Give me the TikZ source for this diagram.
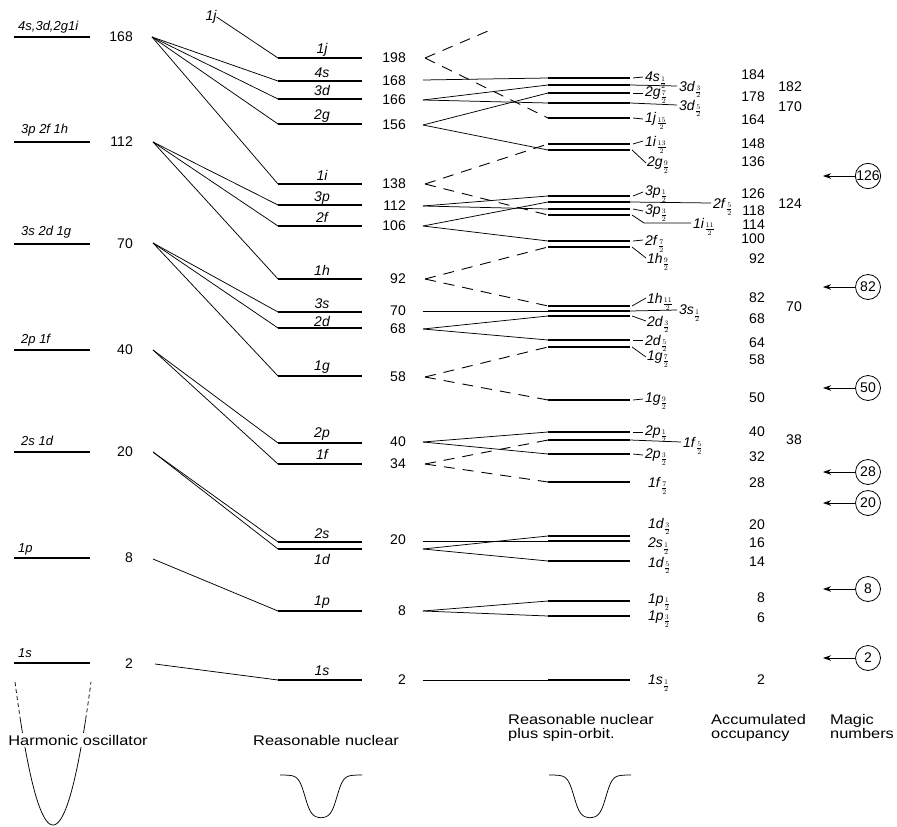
\documentclass[tikz,border=0pt]{standalone}
\usepackage{fontspec}
\setmainfont{Liberation Sans}
\newfontfamily\capfont[FakeStretch=1.17]{Liberation Sans}
\usetikzlibrary{arrows.meta}
\newcommand\sjlab[3]{\textit{#1}\smash{$_{\frac{#2}{#3}}$}}
\newcommand\rlevel[2]{\draw[lev] (548,#2) coordinate (#1L) -- (630,#2) coordinate (#1R);}
\begin{document}
\begin{tikzpicture}[x=1pt,y=-1pt,
  lev/.style={line width=2.5pt},
  conn/.style={line width=0.75pt},
  dconn/.style={line width=0.9pt, dash pattern=on 11pt off 8pt},
  num/.style={font=\fontsize{14}{16}\selectfont, inner sep=0pt, anchor=east},
  olab/.style={font=\fontsize{13}{15}\selectfont\itshape, inner sep=0pt, anchor=base west},
  mlab/.style={font=\fontsize{14}{16}\selectfont\itshape, inner sep=0pt, anchor=base},
  slab/.style={font=\fontsize{14}{16}\selectfont, inner sep=0pt, anchor=west},
  magic/.style={circle, draw, line width=0.8pt, minimum size=25pt, inner sep=0pt, font=\fontsize{14}{16}\selectfont},
  captxt/.style={font=\capfont\fontsize{14}{14}\selectfont, inner sep=0pt, align=left},
  arr/.style={line width=0.75pt, -{Stealth[length=8pt,width=5.5pt]}},
]
\useasboundingbox (0,0) rectangle (897,827);

% ---------------- harmonic oscillator column
\draw[lev] (14,37) -- (90,37);
\draw[lev] (14,142) -- (90,142);
\draw[lev] (14,244) -- (90,244);
\draw[lev] (14,350) -- (90,350);
\draw[lev] (14,452) -- (90,452);
\draw[lev] (14,558) -- (90,558);
\draw[lev] (14,663) -- (90,663);
\node[olab] (hl1) at (18,30) {4s,3d,2g1i};
\node[olab] (hl2) at (21,133) {3p 2f 1h};
\node[olab] (hl3) at (21,235) {3s 2d 1g};
\node[olab] (hl4) at (21,343) {2p 1f};
\node[olab] (hl5) at (21,445) {2s 1d};
\node[olab] (hl6) at (18,552) {1p};
\node[olab] (hl7) at (18,657) {1s};
\node[num] (h168) at (133,37) {168};
\node[num] (h112) at (133,142) {112};
\node[num] (h70) at (133,244) {70};
\node[num] (h40) at (133,350) {40};
\node[num] (h20) at (133,452) {20};
\node[num] (h8) at (133,558) {8};
\node[num] (h2) at (133,664) {2};
\coordinate (o168) at (152,37);
\coordinate (o112) at (153,142);
\coordinate (o70) at (153,243);
\coordinate (o40) at (153,350);
\coordinate (o20) at (153,452);
\coordinate (o8) at (153,559);
\coordinate (o2) at (155,664);

% ---------------- reasonable nuclear column
\draw[lev] (278,58) coordinate (m1jL) -- (362,58);
\draw[lev] (278,81) coordinate (m4sL) -- (362,81);
\draw[lev] (278,99) coordinate (m3dL) -- (362,99);
\draw[lev] (278,124) coordinate (m2gL) -- (362,124);
\draw[lev] (278,184) coordinate (m1iL) -- (362,184);
\draw[lev] (278,205) coordinate (m3pL) -- (362,205);
\draw[lev] (278,226) coordinate (m2fL) -- (362,226);
\draw[lev] (278,279) coordinate (m1hL) -- (362,279);
\draw[lev] (278,312) coordinate (m3sL) -- (362,312);
\draw[lev] (278,328) coordinate (m2dL) -- (362,328);
\draw[lev] (278,376) coordinate (m1gL) -- (362,376);
\draw[lev] (278,443) coordinate (m2pL) -- (362,443);
\draw[lev] (278,464) coordinate (m1fL) -- (362,464);
\draw[lev] (278,542) coordinate (m2sL) -- (362,542);
\draw[lev] (278,549) coordinate (m1dL) -- (362,549);
\draw[lev] (278,611) coordinate (m1pL) -- (362,611);
\draw[lev] (278,680) coordinate (m1sL) -- (362,680);

\node[mlab] (ml1j) at (322,53) {1j};
\node[mlab] (ml4s) at (322,77) {4s};
\node[mlab] (ml3d) at (322,95) {3d};
\node[mlab] (ml2g) at (322,119) {2g};
\node[mlab] (ml1i) at (322,180) {1i};
\node[mlab] (ml3p) at (322,201) {3p};
\node[mlab] (ml2f) at (322,222) {2f};
\node[mlab] (ml1h) at (322,275) {1h};
\node[mlab] (ml3s) at (322,308) {3s};
\node[mlab] (ml2d) at (322,326) {2d};
\node[mlab] (ml1g) at (322,370) {1g};
\node[mlab] (ml2p) at (322,437) {2p};
\node[mlab] (ml1f) at (322,459) {1f};
\node[mlab] (ml2s) at (322,538) {2s};
\node[mlab] (ml1d) at (322,564) {1d};
\node[mlab] (ml1p) at (322,605) {1p};
\node[mlab] (ml1s) at (322,675) {1s};

\node[mlab, anchor=center] (x1j) at (211,17) {1j};
\draw[conn] (x1j.east) -- (m1jL);

% fans
\draw[conn] (o168) -- (m4sL);
\draw[conn] (o168) -- (m3dL);
\draw[conn] (o168) -- (m2gL);
\draw[conn] (o168) -- (m1iL);
\draw[conn] (o112) -- (m3pL);
\draw[conn] (o112) -- (m2fL);
\draw[conn] (o112) -- (m1hL);
\draw[conn] (o70) -- (m3sL);
\draw[conn] (o70) -- (m2dL);
\draw[conn] (o70) -- (m1gL);
\draw[conn] (o40) -- (m2pL);
\draw[conn] (o40) -- (m1fL);
\draw[conn] (o20) -- (m2sL);
\draw[conn] (o20) -- (m1dL);
\draw[conn] (o8) -- (m1pL);
\draw[conn] (o2) -- (m1sL);

% middle numbers
\node[num] (n198) at (406,58) {198};
\node[num] (n168) at (406,81) {168};
\node[num] (n166) at (406,100) {166};
\node[num] (n156) at (406,125) {156};
\node[num] (n138) at (406,184) {138};
\node[num] (n112) at (406,206) {112};
\node[num] (n106) at (406,226) {106};
\node[num] (n92) at (406,279) {92};
\node[num] (n70) at (406,311) {70};
\node[num] (n68) at (406,329) {68};
\node[num] (n58) at (406,377) {58};
\node[num] (n40) at (406,442) {40};
\node[num] (n34) at (406,464) {34};
\node[num] (n20) at (406,540) {20};
\node[num] (n8) at (406,611) {8};
\node[num] (n2) at (406,680) {2};
\coordinate (s198) at (425,58);
\coordinate (s168) at (423,80);
\coordinate (s166) at (423,100);
\coordinate (s156) at (423,125);
\coordinate (s138) at (425,184);
\coordinate (s112) at (423,206);
\coordinate (s106) at (423,226);
\coordinate (s92) at (425,279);
\coordinate (s70) at (423,311);
\coordinate (s68) at (423,329);
\coordinate (s58) at (425,377);
\coordinate (s40) at (423,442);
\coordinate (s34) at (425,464);
\coordinate (s20a) at (423,541);
\coordinate (s20b) at (423,549);
\coordinate (s8) at (423,611);
\coordinate (s2) at (423,680);
\coordinate (t1j) at (488,31);

% ---------------- spin-orbit column
\rlevel{r4s1}{78}
\rlevel{r3d3}{85}
\rlevel{r2g7}{93}
\rlevel{r3d5}{103}
\rlevel{r1j15}{118}
\rlevel{r1i13}{144}
\rlevel{r2g9}{150}
\rlevel{r3p1}{196}
\rlevel{r2f5}{202}
\rlevel{r3p3}{209}
\rlevel{r1i11}{215}
\rlevel{r2f7}{241}
\rlevel{r1h9}{247}
\rlevel{r1h11}{306}
\rlevel{r3s1}{311}
\rlevel{r2d3}{316}
\rlevel{r2d5}{340}
\rlevel{r1g7}{347}
\rlevel{r1g9}{400}
\rlevel{r2p1}{432}
\rlevel{r1f5}{440}
\rlevel{r2p3}{454}
\rlevel{r1f7}{482}
\rlevel{r1d3}{536}
\rlevel{r2s1}{541}
\rlevel{r1d5}{561}
\rlevel{r1p1}{601}
\rlevel{r1p3}{616}
\rlevel{r1s1}{680}

% middle -> spin-orbit connectors
\draw[conn] (s168) -- (r4s1L);
\draw[conn] (s166) -- (r3d3L);
\draw[conn] (s166) -- (r3d5L);
\draw[conn] (s156) -- (r2g7L);
\draw[conn] (s156) -- (r2g9L);
\draw[conn] (s112) -- (r3p1L);
\draw[conn] (s112) -- (r3p3L);
\draw[conn] (s106) -- (r2f5L);
\draw[conn] (s106) -- (r2f7L);
\draw[conn] (s70) -- (r3s1L);
\draw[conn] (s68) -- (r2d3L);
\draw[conn] (s68) -- (r2d5L);
\draw[conn] (s40) -- (r2p1L);
\draw[conn] (s40) -- (r2p3L);
\draw[conn] (s20a) -- (r2s1L);
\draw[conn] (s20b) -- (r1d3L);
\draw[conn] (s20b) -- (r1d5L);
\draw[conn] (s8) -- (r1p1L);
\draw[conn] (s8) -- (r1p3L);
\draw[conn] (s2) -- (r1s1L);
\draw[dconn] (s198) -- (t1j);
\draw[dconn] (s198) -- (r1j15L);
\draw[dconn] (s138) -- (r1i13L);
\draw[dconn] (s138) -- (r1i11L);
\draw[dconn] (s92) -- (r1h9L);
\draw[dconn] (s92) -- (r1h11L);
\draw[dconn] (s58) -- (r1g7L);
\draw[dconn] (s58) -- (r1g9L);
\draw[dconn] (s34) -- (r1f5L);
\draw[dconn] (s34) -- (r1f7L);

% spin-orbit labels
\node[slab] (l4s1) at (645,77) {\sjlab{4s}12};
\node[slab] (l3d3) at (679,86) {\sjlab{3d}32};
\node[slab] (l2g7) at (645,93) {\sjlab{2g}72};
\node[slab] (l3d5) at (679,105) {\sjlab{3d}52};
\node[slab] (l1j15) at (645,119) {\sjlab{1j}{15}2};
\node[slab] (l1i13) at (645,141) {\sjlab{1i}{13}2};
\node[slab] (l2g9) at (647,163) {\sjlab{2g}92};
\node[slab] (l3p1) at (645,192) {\sjlab{3p}12};
\node[slab] (l2f5) at (713,203) {\sjlab{2f}52};
\node[slab] (l3p3) at (645,211) {\sjlab{3p}32};
\node[slab] (l1i11) at (693,223) {\sjlab{1i}{11}2};
\node[slab] (l2f7) at (645,240) {\sjlab{2f}72};
\node[slab] (l1h9) at (647,258) {\sjlab{1h}92};
\node[slab] (l1h11) at (647,298) {\sjlab{1h}{11}2};
\node[slab] (l3s1) at (679,310) {\sjlab{3s}12};
\node[slab] (l2d3) at (647,321) {\sjlab{2d}32};
\node[slab] (l2d5) at (645,340) {\sjlab{2d}52};
\node[slab] (l1g7) at (647,357) {\sjlab{1g}72};
\node[slab] (l1g9) at (645,399) {\sjlab{1g}92};
\node[slab] (l2p1) at (645,432) {\sjlab{2p}12};
\node[slab] (l1f5) at (683,442) {\sjlab{1f}52};
\node[slab] (l2p3) at (645,455) {\sjlab{2p}32};
\node[slab] (l1f7) at (648,482) {\sjlab{1f}72};
\node[slab] (l1d3) at (648,523) {\sjlab{1d}32};
\node[slab] (l2s1) at (648,543) {\sjlab{2s}12};
\node[slab] (l1d5) at (648,562) {\sjlab{1d}52};
\node[slab] (l1p1) at (648,600) {\sjlab{1p}12};
\node[slab] (l1p3) at (648,617) {\sjlab{1p}32};
\node[slab] (l1s1) at (648,680) {\sjlab{1s}12};

% leaders
\foreach \a in {4s1,2g7,1j15,1i13,3p1,3p3,2f7,2d5,1g9,2p1,2p3}
  \draw[conn] ([xshift=3pt]r\a R) -- ([xshift=-2pt]l\a.west);
\foreach \a in {2g9,1h9,1h11,2d3,1g7}
  \draw[conn] ([xshift=2pt]r\a R) -- ([xshift=-1pt]l\a.west);
\foreach \a in {3d3,3d5,3s1,1f5,2f5}
  \draw[conn] (r\a R) -- ([xshift=-2pt]l\a.west);
\draw[conn] ([xshift=2pt]r1i11R) -- ++(12,8) -- ([xshift=-2pt]l1i11.west);

% ---------------- accumulated occupancy
\foreach \v/\yy in {184/75,178/97,164/120,148/144,136/162,126/194,118/211,114/225,100/239,92/259,82/298,68/319,64/343,58/360,50/398,40/432,32/457,28/483,20/525,16/543,14/562,8/598,6/618,2/680}
  \node[num] (acc\v) at (765,\yy) {\v};
\foreach \v/\yy in {182/87,170/107,124/204,70/307,38/440}
  \node[num] (accb\v) at (802,\yy) {\v};

% ---------------- magic numbers
\foreach \v/\yy in {126/176,82/287,50/388,28/472,20/503,8/589,2/658}{
  \node[magic] (mg\v) at (868,\yy) {\v};
  \coordinate (ma\v) at (823,\yy);
  \draw[arr] (mg\v.west) -- (ma\v);
}

% ---------------- potentials
\draw[conn, dash pattern=on 4pt off 3pt] plot[domain=-1:-0.86, samples=6] ({53+38*\x}, {825-143*\x*\x});
\draw[conn, dash pattern=on 4pt off 3pt] plot[domain=0.86:1, samples=6] ({53+38*\x}, {825-143*\x*\x});
\draw[conn] plot[domain=-0.86:0.86, samples=60, smooth] ({53+38*\x}, {825-143*\x*\x});
\draw[conn] plot[domain=-41:41, samples=83, smooth] ({321+\x}, {775+43/(1+exp((abs(\x)-16)/3.2))});
\draw[conn] plot[domain=-41:41, samples=83, smooth] ({590+\x}, {775+43/(1+exp((abs(\x)-16)/3.2))});

% ---------------- captions
\node[captxt, fill=white, inner sep=1.5pt] (chos) at (78,740) {Harmonic oscillator};
\node[captxt, anchor=base west] (crn) at (253,745) {Reasonable nuclear};
\node[captxt, anchor=base west] (crso) at (508,738) {Reasonable nuclear\\plus spin-orbit.};
\node[captxt, anchor=base west] (cacc) at (711,738) {Accumulated\\occupancy};
\node[captxt, anchor=base west] (cmag) at (830,738) {Magic\\numbers};
\end{tikzpicture}
\end{document}
